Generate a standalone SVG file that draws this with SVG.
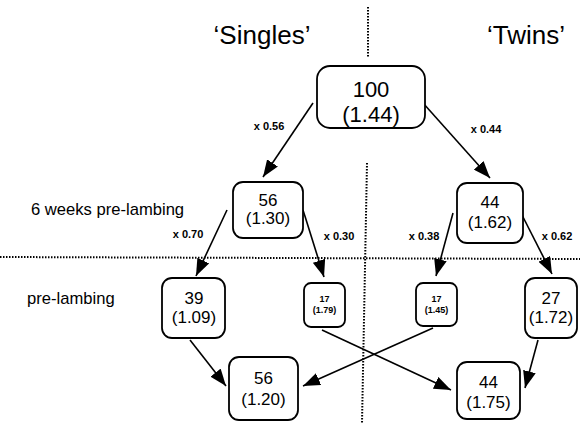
<svg xmlns="http://www.w3.org/2000/svg" width="580" height="423" viewBox="0 0 580 423">
<defs>
<style>
text{font-family:"Liberation Sans",Arial,sans-serif;fill:#000;text-anchor:middle}
.box{fill:#fff;stroke:#000;stroke-width:1.8}
.head{font-size:26px}
.side{font-size:16.6px;text-anchor:start}
.big{font-size:22px}
.mid{font-size:17px}
.sm{font-size:9px;font-weight:bold}
.lab{font-size:11px;font-weight:bold}
.dot{stroke:#000;stroke-width:2;stroke-dasharray:1.5 1.5;fill:none}
.arr{stroke:#000;stroke-width:1.6;fill:none;marker-end:url(#ah)}
</style>
<marker id="ah" markerUnits="userSpaceOnUse" markerWidth="18" markerHeight="13" refX="17" refY="6.5" orient="auto">
<path d="M0,0 L17,6.5 L0,13 z" fill="#000"/>
</marker>
</defs>
<rect width="580" height="423" fill="#fff"/>
<g id="dividers">
<line class="dot" x1="368" y1="7" x2="368" y2="58"/>
<line class="dot" x1="367" y1="163" x2="362" y2="423"/>
<line class="dot" x1="0" y1="257" x2="580" y2="259"/>
</g>
<g id="headings">
<text class="head" x="262" y="44">‘Singles’</text>
<text class="head" x="526" y="44">‘Twins’</text>
<text class="side" x="31" y="215">6 weeks pre-lambing</text>
<text class="side" x="27" y="304">pre-lambing</text>
</g>
<g id="connectors">
<line class="arr" x1="313" y1="103" x2="263" y2="177"/>
<line class="arr" x1="423" y1="103" x2="490" y2="178"/>
<line class="arr" x1="227" y1="210" x2="196" y2="276"/>
<line class="arr" x1="303" y1="210" x2="324" y2="277"/>
<line class="arr" x1="453" y1="213" x2="436" y2="276"/>
<line class="arr" x1="522" y1="215" x2="552" y2="274"/>
<line class="arr" x1="190" y1="340" x2="226" y2="386"/>
<line class="arr" x1="322" y1="330" x2="451" y2="390"/>
<line class="arr" x1="433" y1="328" x2="303" y2="386"/>
<line class="arr" x1="538" y1="340" x2="525" y2="388"/>
<text class="lab" x="269" y="130">x 0.56</text>
<text class="lab" x="486" y="133">x 0.44</text>
<text class="lab" x="188" y="238">x 0.70</text>
<text class="lab" x="339" y="240">x 0.30</text>
<text class="lab" x="424" y="240">x 0.38</text>
<text class="lab" x="557" y="240">x 0.62</text>
</g>
<g id="n100">
<rect class="box" x="317" y="66" width="108" height="62" rx="13"/>
<text class="big" x="371" y="97">100</text>
<text class="big" x="371" y="122">(1.44)</text>
</g>
<g id="n56a">
<rect class="box" x="233" y="182" width="70" height="56" rx="10"/>
<text class="mid" x="268" y="206">56</text>
<text class="mid" x="268" y="224">(1.30)</text>
</g>
<g id="n44a">
<rect class="box" x="457" y="183" width="66" height="60" rx="10"/>
<text class="mid" x="490" y="208">44</text>
<text class="mid" x="490" y="228">(1.62)</text>
</g>
<g id="n39">
<rect class="box" x="162" y="278" width="63" height="60" rx="10"/>
<text class="mid" x="194" y="304">39</text>
<text class="mid" x="194" y="323">(1.09)</text>
</g>
<g id="n17a">
<rect class="box" x="304" y="283" width="41" height="44" rx="7"/>
<text class="sm" x="324.5" y="302">17</text>
<text class="sm" x="324.5" y="313">(1.79)</text>
</g>
<g id="n17b">
<rect class="box" x="416" y="283" width="41" height="43" rx="7"/>
<text class="sm" x="436.5" y="302">17</text>
<text class="sm" x="436.5" y="313">(1.45)</text>
</g>
<g id="n27">
<rect class="box" x="525" y="278" width="52" height="60" rx="10"/>
<text class="mid" x="551" y="304">27</text>
<text class="mid" x="551" y="323">(1.72)</text>
</g>
<g id="n56b">
<rect class="box" x="229" y="357" width="69" height="63" rx="10"/>
<text class="mid" x="263.5" y="384">56</text>
<text class="mid" x="263.5" y="405">(1.20)</text>
</g>
<g id="n44b">
<rect class="box" x="457" y="362" width="63" height="57" rx="10"/>
<text class="mid" x="488.5" y="388">44</text>
<text class="mid" x="488.5" y="408">(1.75)</text>
</g>
</svg>
